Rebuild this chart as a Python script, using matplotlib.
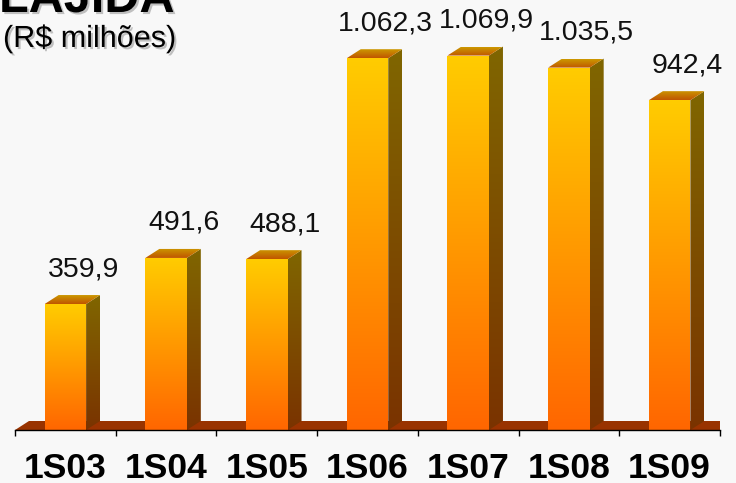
import numpy as np
import matplotlib
matplotlib.use('Agg')
import matplotlib.pyplot as plt
from matplotlib.patches import Polygon
from matplotlib.colors import LinearSegmentedColormap
import matplotlib.patheffects as pe

categories = ['1S03', '1S04', '1S05', '1S06', '1S07', '1S08', '1S09']
values = [359.9, 491.6, 488.1, 1062.3, 1069.9, 1035.5, 942.4]
value_labels = ['359,9', '491,6', '488,1', '1.062,3', '1.069,9', '1.035,5', '942,4']
title = 'LAJIDA'
subtitle = '(R$ milhões)'

plt.rcParams['font.family'] = ['Liberation Sans', 'DejaVu Sans']

W, H = 736, 483
BG = '#f8f8f8'
fig = plt.figure(figsize=(W / 100, H / 100), dpi=100, facecolor=BG)
ax = fig.add_axes([15 / W, 53 / H, 705 / W, 430 / H])
ax.set_facecolor(BG)

n = len(categories)
XMIN, XMAX = -0.5, n - 0.5
YMAX = 1228.6
# depth of the 3D effect, in pixels -> data units
dx = 14 * (XMAX - XMIN) / 705
dy = 9 * YMAX / 430
half = 0.206


def grad_fill(poly_xy, c_top, c_bot, zorder):
    poly = Polygon(poly_xy, closed=True, facecolor='none', edgecolor='none', zorder=zorder)
    ax.add_patch(poly)
    xs = [p[0] for p in poly_xy]
    ys = [p[1] for p in poly_xy]
    cmap = LinearSegmentedColormap.from_list('g', [c_bot, c_top])
    grad = np.linspace(0, 1, 256).reshape(-1, 1)
    im = ax.imshow(grad, cmap=cmap, extent=(min(xs), max(xs), min(ys), max(ys)),
                   origin='lower', aspect='auto', zorder=zorder, interpolation='bilinear')
    im.set_clip_path(poly)


# floor
floor = Polygon([(XMIN, 0), (XMAX, 0), (XMAX + dx, dy), (XMIN + dx, dy)],
                closed=True, facecolor='#993300', edgecolor='none', zorder=1)
ax.add_patch(floor)

for i, v in enumerate(values):
    x0, x1 = i - half, i + half
    # side face
    grad_fill([(x1, 0), (x1 + dx, dy), (x1 + dx, v + dy), (x1, v)], '#806600', '#7a3300', 2)
    # top face
    grad_fill([(x0, v), (x1, v), (x1 + dx, v + dy), (x0 + dx, v + dy)], '#cc9900', '#c05500', 2)
    # front face
    grad_fill([(x0, 0), (x1, 0), (x1, v), (x0, v)], '#ffcc00', '#ff6600', 3)
    ax.annotate(value_labels[i], xy=(i, v), xytext=(18, 28), textcoords='offset pixels',
                ha='center', va='baseline', fontsize=20.5, color='#111111',
                annotation_clip=False)

ax.set_xlim(XMIN, XMAX)
ax.set_ylim(0, YMAX)

for s in ['top', 'right', 'left']:
    ax.spines[s].set_visible(False)
ax.spines['bottom'].set_color('black')
ax.spines['bottom'].set_linewidth(1)
ax.spines['bottom'].set_zorder(5)
ax.set_yticks([])
ax.set_xticks(range(n))
ax.set_xticklabels(categories, fontsize=25.5, fontweight='bold')
ax.set_xticks(np.arange(XMIN, XMAX + 0.01, 1.0), minor=True)
ax.tick_params(axis='x', which='major', length=0, pad=15.5)
ax.tick_params(axis='x', which='minor', length=4.3, width=1, color='black', direction='out')

shadow = [pe.withSimplePatchShadow(offset=(1.5, -1.5), shadow_rgbFace='#999999', alpha=0.6)]
fig.text(-1 / W, 1 - 12 / H, title, fontsize=35, fontweight='bold', va='baseline', ha='left',
         path_effects=shadow)
fig.text(3 / W, 1 - 47 / H, subtitle, fontsize=22, va='baseline', ha='left', path_effects=shadow)

fig.savefig('out.png', dpi=100, facecolor=BG)
